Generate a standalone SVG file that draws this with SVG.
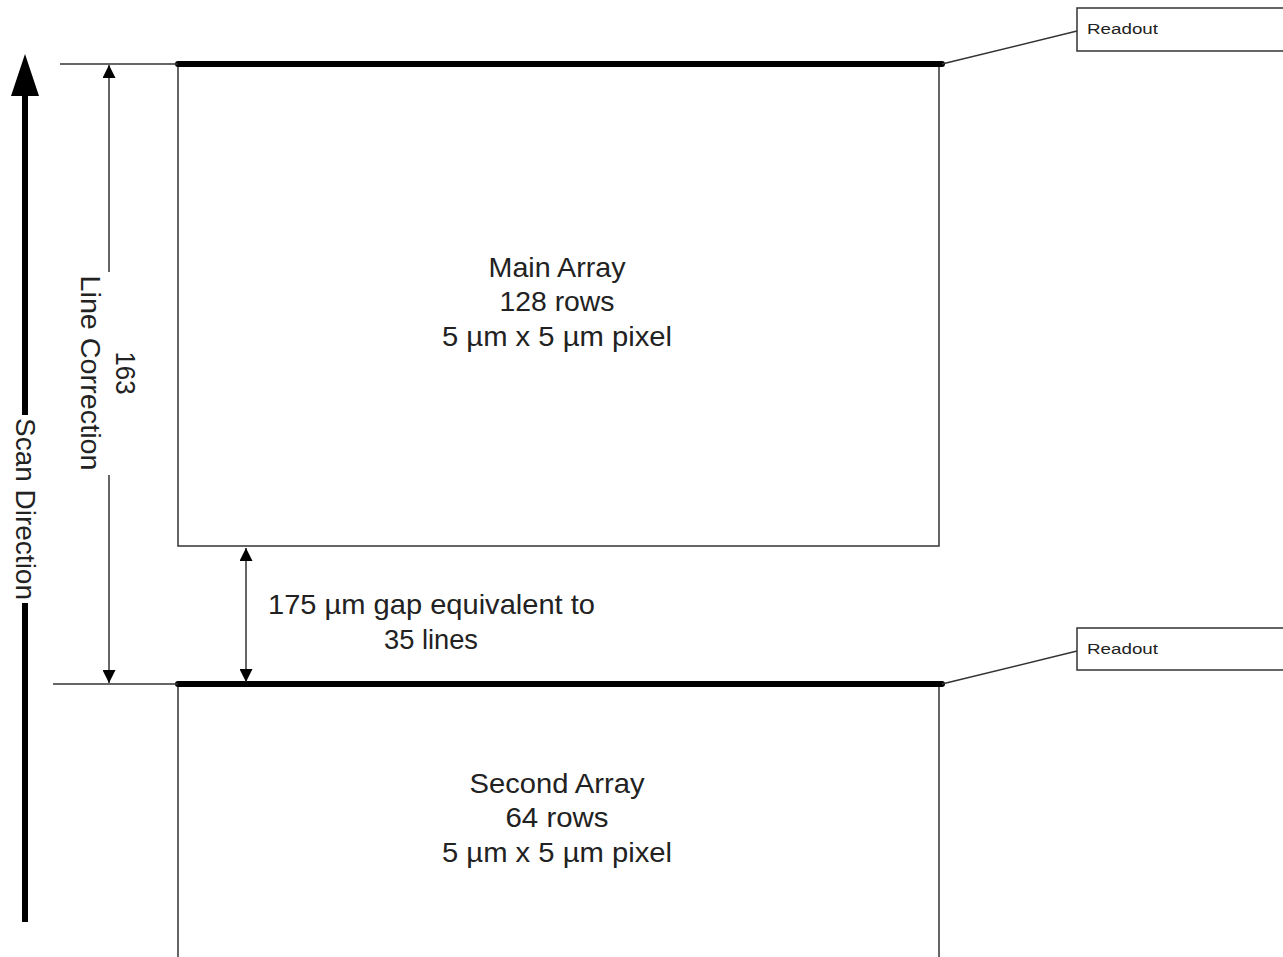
<svg xmlns="http://www.w3.org/2000/svg" width="1283" height="957" viewBox="0 0 1283 957">
<defs>
<marker id="ah" viewBox="0 0 10 10" refX="10" refY="5" markerWidth="14" markerHeight="13" markerUnits="userSpaceOnUse" orient="auto-start-reverse"><path d="M0,0 L10,5 L0,10 z" fill="#000"/></marker>
</defs>
<style>
.t{font-family:"Liberation Sans",Arial,sans-serif;fill:#222;}
.big{font-size:28px;text-anchor:middle;}
.sm{font-size:14px;}
.thin{stroke:#333;stroke-width:1.5;fill:none;}
.bar{stroke:#000;stroke-width:6;stroke-linecap:round;}
</style>
<rect width="1283" height="957" fill="#fff"/>
<g id="main-array">
<rect x="178" y="64" width="761" height="482" class="thin" fill="#fff"/>
<text class="t big" x="557" y="277" textLength="137" lengthAdjust="spacingAndGlyphs">Main Array</text>
<text class="t big" x="557" y="311" textLength="115" lengthAdjust="spacingAndGlyphs">128 rows</text>
<text class="t big" x="557" y="346" textLength="230" lengthAdjust="spacingAndGlyphs">5 µm x 5 µm pixel</text>
</g>
<g id="second-array">
<rect x="178" y="684" width="761" height="290" class="thin" fill="#fff"/>
<text class="t big" x="557" y="793" textLength="175" lengthAdjust="spacingAndGlyphs">Second Array</text>
<text class="t big" x="557" y="827" textLength="103" lengthAdjust="spacingAndGlyphs">64 rows</text>
<text class="t big" x="557" y="862" textLength="230" lengthAdjust="spacingAndGlyphs">5 µm x 5 µm pixel</text>
</g>
<g id="readout-top">
<rect x="1077" y="8" width="210" height="43" class="thin" fill="#fff"/>
<text class="t sm" x="1087" y="34" textLength="71" lengthAdjust="spacingAndGlyphs">Readout</text>
</g>
<g id="readout-bottom">
<rect x="1077" y="628" width="210" height="42" class="thin" fill="#fff"/>
<text class="t sm" x="1087" y="654" textLength="71" lengthAdjust="spacingAndGlyphs">Readout</text>
</g>
<g id="labels">
<text class="t" font-size="27" text-anchor="middle" transform="translate(25,509) rotate(90)" dominant-baseline="central" textLength="182" lengthAdjust="spacingAndGlyphs">Scan Direction</text>
<text class="t" font-size="27" text-anchor="middle" transform="translate(90,373) rotate(90)" dominant-baseline="central" textLength="195" lengthAdjust="spacingAndGlyphs">Line Correction</text>
<text class="t" font-size="27" text-anchor="middle" transform="translate(125,373) rotate(90)" dominant-baseline="central" textLength="43" lengthAdjust="spacingAndGlyphs">163</text>
<text class="t" font-size="28" x="268" y="614" textLength="327" lengthAdjust="spacingAndGlyphs">175 µm gap equivalent to</text>
<text class="t" font-size="28" x="431" y="649" text-anchor="middle" textLength="94" lengthAdjust="spacingAndGlyphs">35 lines</text>
</g>
<g id="connectors">
<line x1="178" y1="64" x2="942" y2="64" class="bar"/>
<line x1="178" y1="684" x2="942" y2="684" class="bar"/>
<line x1="60" y1="64" x2="178" y2="64" class="thin"/>
<line x1="53" y1="684" x2="178" y2="684" class="thin"/>
<line x1="942" y1="64" x2="1077" y2="31" class="thin"/>
<line x1="942" y1="684" x2="1077" y2="651" class="thin"/>
<line x1="109" y1="272" x2="109" y2="65" class="thin" marker-end="url(#ah)"/>
<line x1="109" y1="475" x2="109" y2="683" class="thin" marker-end="url(#ah)"/>
<line x1="246" y1="548" x2="246" y2="682" class="thin" marker-start="url(#ah)" marker-end="url(#ah)"/>
<line x1="25" y1="922" x2="25" y2="603" stroke="#000" stroke-width="6"/>
<line x1="25" y1="415" x2="25" y2="95" stroke="#000" stroke-width="6"/>
<path d="M11,96 L25,54 L39,96 z" fill="#000"/>
</g>
</svg>
